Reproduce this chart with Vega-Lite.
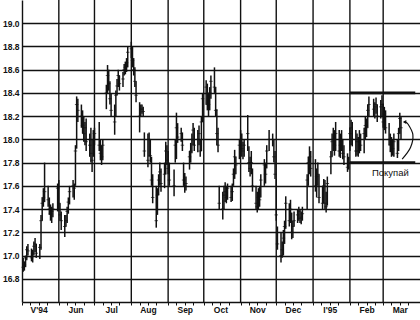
{
"$schema": "https://vega.github.io/schema/vega-lite/v6.json",
"width": 398, "height": 302,
"autosize": {"type": "none"},
"padding": {"left": 22, "top": 0, "right": 0, "bottom": 18},
"background": "white",
"config": {"view": {"stroke": null}, "font": "Liberation Sans", "axis": {"labelOverlap": false, "labelFlush": false}},
"datasets": {
"bars": [
{"d":"1994-05-02","h":16.98,"l":16.86,"c":16.9},
{"d":"1994-05-03","h":16.95,"l":16.87,"c":16.92},
{"d":"1994-05-04","h":17.0,"l":16.9,"c":16.98},
{"d":"1994-05-05","h":17.08,"l":16.96,"c":17.05},
{"d":"1994-05-06","h":17.1,"l":17.0,"c":17.04},
{"d":"1994-05-09","h":17.06,"l":16.95,"c":16.98},
{"d":"1994-05-10","h":17.05,"l":16.94,"c":17.02},
{"d":"1994-05-11","h":17.12,"l":17.0,"c":17.08},
{"d":"1994-05-12","h":17.15,"l":17.03,"c":17.1},
{"d":"1994-05-13","h":17.1,"l":16.98,"c":17.02},
{"d":"1994-05-16","h":17.1,"l":16.97,"c":17.07},
{"d":"1994-05-17","h":17.35,"l":17.05,"c":17.3},
{"d":"1994-05-18","h":17.5,"l":17.3,"c":17.45},
{"d":"1994-05-19","h":17.58,"l":17.42,"c":17.5},
{"d":"1994-05-20","h":17.8,"l":17.46,"c":17.55},
{"d":"1994-05-23","h":17.6,"l":17.42,"c":17.48},
{"d":"1994-05-24","h":17.5,"l":17.35,"c":17.4},
{"d":"1994-05-25","h":17.44,"l":17.3,"c":17.36},
{"d":"1994-05-26","h":17.42,"l":17.28,"c":17.38},
{"d":"1994-05-27","h":17.45,"l":17.33,"c":17.4},
{"d":"1994-05-31","h":17.62,"l":17.38,"c":17.58},
{"d":"1994-06-01","h":17.65,"l":17.4,"c":17.45},
{"d":"1994-06-02","h":17.45,"l":17.3,"c":17.35},
{"d":"1994-06-03","h":17.38,"l":17.22,"c":17.3},
{"d":"1994-06-06","h":17.35,"l":17.16,"c":17.25},
{"d":"1994-06-07","h":17.35,"l":17.25,"c":17.3},
{"d":"1994-06-08","h":17.42,"l":17.28,"c":17.38},
{"d":"1994-06-09","h":17.5,"l":17.36,"c":17.46},
{"d":"1994-06-10","h":17.6,"l":17.44,"c":17.55},
{"d":"1994-06-13","h":17.65,"l":17.5,"c":17.6},
{"d":"1994-06-14","h":17.62,"l":17.48,"c":17.58},
{"d":"1994-06-15","h":17.95,"l":17.6,"c":17.9},
{"d":"1994-06-16","h":18.37,"l":17.92,"c":18.3},
{"d":"1994-06-17","h":18.35,"l":18.15,"c":18.25},
{"d":"1994-06-20","h":18.3,"l":18.1,"c":18.2},
{"d":"1994-06-21","h":18.25,"l":18.05,"c":18.12},
{"d":"1994-06-22","h":18.2,"l":17.98,"c":18.05},
{"d":"1994-06-23","h":18.15,"l":17.95,"c":18.1},
{"d":"1994-06-24","h":18.18,"l":17.9,"c":17.98},
{"d":"1994-06-27","h":18.05,"l":17.85,"c":17.95},
{"d":"1994-06-28","h":18.1,"l":17.8,"c":17.88},
{"d":"1994-06-29","h":18.0,"l":17.72,"c":17.82},
{"d":"1994-06-30","h":18.08,"l":17.85,"c":18.0},
{"d":"1994-07-01","h":18.1,"l":17.95,"c":18.05},
{"d":"1994-07-05","h":18.15,"l":17.9,"c":17.95},
{"d":"1994-07-06","h":18.0,"l":17.82,"c":17.88},
{"d":"1994-07-07","h":17.95,"l":17.78,"c":17.85},
{"d":"1994-07-08","h":18.0,"l":17.82,"c":17.95},
{"d":"1994-07-11","h":18.47,"l":18.26,"c":18.4},
{"d":"1994-07-12","h":18.64,"l":18.4,"c":18.55},
{"d":"1994-07-13","h":18.6,"l":18.42,"c":18.48},
{"d":"1994-07-14","h":18.5,"l":18.3,"c":18.35},
{"d":"1994-07-15","h":18.4,"l":18.2,"c":18.25},
{"d":"1994-07-18","h":18.3,"l":18.04,"c":18.15},
{"d":"1994-07-19","h":18.42,"l":18.2,"c":18.38},
{"d":"1994-07-20","h":18.52,"l":18.38,"c":18.46},
{"d":"1994-07-21","h":18.6,"l":18.45,"c":18.55},
{"d":"1994-07-22","h":18.55,"l":18.42,"c":18.48},
{"d":"1994-07-25","h":18.58,"l":18.45,"c":18.52},
{"d":"1994-07-26","h":18.65,"l":18.55,"c":18.6},
{"d":"1994-07-27","h":18.67,"l":18.56,"c":18.62},
{"d":"1994-07-28","h":18.7,"l":18.58,"c":18.66},
{"d":"1994-07-29","h":18.8,"l":18.62,"c":18.75},
{"d":"1994-08-01","h":18.84,"l":18.7,"c":18.78},
{"d":"1994-08-02","h":18.8,"l":18.62,"c":18.68},
{"d":"1994-08-03","h":18.7,"l":18.55,"c":18.6},
{"d":"1994-08-04","h":18.62,"l":18.45,"c":18.5},
{"d":"1994-08-05","h":18.5,"l":18.32,"c":18.38},
{"d":"1994-08-08","h":18.32,"l":18.06,"c":18.2},
{"d":"1994-08-09","h":18.3,"l":18.2,"c":18.26},
{"d":"1994-08-10","h":18.3,"l":18.22,"c":18.26},
{"d":"1994-08-11","h":18.28,"l":18.2,"c":18.24},
{"d":"1994-08-12","h":18.06,"l":17.85,"c":17.9},
{"d":"1994-08-15","h":18.05,"l":17.76,"c":17.82},
{"d":"1994-08-16","h":18.06,"l":17.85,"c":18.0},
{"d":"1994-08-17","h":18.0,"l":17.8,"c":17.86},
{"d":"1994-08-18","h":17.85,"l":17.6,"c":17.65},
{"d":"1994-08-19","h":17.7,"l":17.45,"c":17.5},
{"d":"1994-08-22","h":17.6,"l":17.24,"c":17.3},
{"d":"1994-08-23","h":17.58,"l":17.35,"c":17.52},
{"d":"1994-08-24","h":17.7,"l":17.52,"c":17.65},
{"d":"1994-08-25","h":17.8,"l":17.6,"c":17.72},
{"d":"1994-08-26","h":17.75,"l":17.55,"c":17.62},
{"d":"1994-08-29","h":17.8,"l":17.58,"c":17.7},
{"d":"1994-08-30","h":17.98,"l":17.7,"c":17.9},
{"d":"1994-08-31","h":17.95,"l":17.78,"c":17.82},
{"d":"1994-09-01","h":17.9,"l":17.7,"c":17.75},
{"d":"1994-09-02","h":17.8,"l":17.6,"c":17.65},
{"d":"1994-09-06","h":17.74,"l":17.51,"c":17.6},
{"d":"1994-09-07","h":18.0,"l":17.8,"c":17.95},
{"d":"1994-09-08","h":18.23,"l":17.83,"c":18.1},
{"d":"1994-09-09","h":18.14,"l":17.97,"c":18.02},
{"d":"1994-09-12","h":18.1,"l":17.98,"c":18.05},
{"d":"1994-09-13","h":18.06,"l":17.9,"c":17.95},
{"d":"1994-09-14","h":17.8,"l":17.6,"c":17.65},
{"d":"1994-09-15","h":17.71,"l":17.54,"c":17.6},
{"d":"1994-09-16","h":17.68,"l":17.56,"c":17.62},
{"d":"1994-09-19","h":17.9,"l":17.74,"c":17.85},
{"d":"1994-09-20","h":17.97,"l":17.8,"c":17.9},
{"d":"1994-09-21","h":18.05,"l":17.88,"c":18.0},
{"d":"1994-09-22","h":18.14,"l":17.95,"c":18.08},
{"d":"1994-09-23","h":18.1,"l":17.9,"c":17.95},
{"d":"1994-09-26","h":18.08,"l":17.89,"c":18.0},
{"d":"1994-09-27","h":18.12,"l":17.95,"c":18.05},
{"d":"1994-09-28","h":18.0,"l":17.85,"c":17.9},
{"d":"1994-09-29","h":18.2,"l":17.9,"c":18.15},
{"d":"1994-09-30","h":18.4,"l":18.15,"c":18.35},
{"d":"1994-10-03","h":18.51,"l":18.3,"c":18.45},
{"d":"1994-10-04","h":18.48,"l":18.25,"c":18.3},
{"d":"1994-10-05","h":18.4,"l":18.2,"c":18.3},
{"d":"1994-10-06","h":18.45,"l":18.25,"c":18.4},
{"d":"1994-10-07","h":18.55,"l":18.35,"c":18.5},
{"d":"1994-10-10","h":18.62,"l":18.4,"c":18.45},
{"d":"1994-10-11","h":18.45,"l":18.2,"c":18.25},
{"d":"1994-10-12","h":18.26,"l":17.95,"c":18.05},
{"d":"1994-10-13","h":18.1,"l":17.89,"c":17.95},
{"d":"1994-10-14","h":17.6,"l":17.4,"c":17.45},
{"d":"1994-10-17","h":17.55,"l":17.31,"c":17.4},
{"d":"1994-10-18","h":17.6,"l":17.4,"c":17.52},
{"d":"1994-10-19","h":17.63,"l":17.46,"c":17.55},
{"d":"1994-10-20","h":17.6,"l":17.45,"c":17.5},
{"d":"1994-10-21","h":17.62,"l":17.48,"c":17.58},
{"d":"1994-10-24","h":17.6,"l":17.46,"c":17.5},
{"d":"1994-10-25","h":17.62,"l":17.47,"c":17.55},
{"d":"1994-10-26","h":17.75,"l":17.6,"c":17.7},
{"d":"1994-10-27","h":17.91,"l":17.66,"c":17.85},
{"d":"1994-10-28","h":17.85,"l":17.7,"c":17.78},
{"d":"1994-10-31","h":18.0,"l":17.83,"c":17.95},
{"d":"1994-11-01","h":18.08,"l":17.9,"c":18.0},
{"d":"1994-11-02","h":18.05,"l":17.85,"c":17.92},
{"d":"1994-11-03","h":17.98,"l":17.83,"c":17.9},
{"d":"1994-11-04","h":18.0,"l":17.85,"c":17.95},
{"d":"1994-11-07","h":18.21,"l":17.9,"c":18.05},
{"d":"1994-11-08","h":17.94,"l":17.72,"c":17.8},
{"d":"1994-11-09","h":17.85,"l":17.68,"c":17.75},
{"d":"1994-11-10","h":17.9,"l":17.7,"c":17.8},
{"d":"1994-11-11","h":17.75,"l":17.55,"c":17.6},
{"d":"1994-11-14","h":17.6,"l":17.4,"c":17.45},
{"d":"1994-11-15","h":17.55,"l":17.37,"c":17.42},
{"d":"1994-11-16","h":17.58,"l":17.4,"c":17.5},
{"d":"1994-11-17","h":17.6,"l":17.42,"c":17.48},
{"d":"1994-11-18","h":17.7,"l":17.5,"c":17.65},
{"d":"1994-11-21","h":17.83,"l":17.6,"c":17.78},
{"d":"1994-11-22","h":17.8,"l":17.62,"c":17.7},
{"d":"1994-11-23","h":17.95,"l":17.75,"c":17.9},
{"d":"1994-11-25","h":18.08,"l":17.9,"c":18.0},
{"d":"1994-11-28","h":18.05,"l":17.94,"c":18.0},
{"d":"1994-11-29","h":18.0,"l":17.8,"c":17.85},
{"d":"1994-11-30","h":17.9,"l":17.66,"c":17.7},
{"d":"1994-12-01","h":17.66,"l":17.3,"c":17.35},
{"d":"1994-12-02","h":17.25,"l":17.05,"c":17.1},
{"d":"1994-12-05","h":17.2,"l":16.94,"c":17.0},
{"d":"1994-12-06","h":17.12,"l":16.98,"c":17.05},
{"d":"1994-12-07","h":17.22,"l":17.0,"c":17.15},
{"d":"1994-12-08","h":17.3,"l":17.1,"c":17.25},
{"d":"1994-12-09","h":17.51,"l":17.23,"c":17.45},
{"d":"1994-12-12","h":17.45,"l":17.25,"c":17.3},
{"d":"1994-12-13","h":17.48,"l":17.28,"c":17.4},
{"d":"1994-12-14","h":17.37,"l":17.14,"c":17.2},
{"d":"1994-12-15","h":17.3,"l":17.15,"c":17.25},
{"d":"1994-12-16","h":17.38,"l":17.25,"c":17.3},
{"d":"1994-12-19","h":17.4,"l":17.28,"c":17.35},
{"d":"1994-12-20","h":17.42,"l":17.3,"c":17.38},
{"d":"1994-12-21","h":17.4,"l":17.28,"c":17.32},
{"d":"1994-12-22","h":17.38,"l":17.27,"c":17.33},
{"d":"1994-12-23","h":17.42,"l":17.3,"c":17.36},
{"d":"1994-12-27","h":17.7,"l":17.4,"c":17.65},
{"d":"1994-12-28","h":17.85,"l":17.6,"c":17.8},
{"d":"1994-12-29","h":17.94,"l":17.7,"c":17.85},
{"d":"1994-12-30","h":17.9,"l":17.68,"c":17.75},
{"d":"1995-01-03","h":17.83,"l":17.55,"c":17.6},
{"d":"1995-01-04","h":17.75,"l":17.5,"c":17.68},
{"d":"1995-01-05","h":17.8,"l":17.6,"c":17.7},
{"d":"1995-01-06","h":17.7,"l":17.45,"c":17.5},
{"d":"1995-01-09","h":17.6,"l":17.4,"c":17.45},
{"d":"1995-01-10","h":17.66,"l":17.45,"c":17.6},
{"d":"1995-01-11","h":17.65,"l":17.4,"c":17.45},
{"d":"1995-01-12","h":17.55,"l":17.37,"c":17.42},
{"d":"1995-01-13","h":17.68,"l":17.43,"c":17.62},
{"d":"1995-01-16","h":17.9,"l":17.7,"c":17.85},
{"d":"1995-01-17","h":18.05,"l":17.85,"c":17.98},
{"d":"1995-01-18","h":18.1,"l":17.9,"c":18.0},
{"d":"1995-01-19","h":18.08,"l":17.86,"c":17.95},
{"d":"1995-01-20","h":18.15,"l":17.9,"c":18.05},
{"d":"1995-01-23","h":18.08,"l":17.85,"c":17.9},
{"d":"1995-01-24","h":18.05,"l":17.84,"c":17.95},
{"d":"1995-01-25","h":18.08,"l":17.9,"c":18.0},
{"d":"1995-01-26","h":18.0,"l":17.83,"c":17.88},
{"d":"1995-01-27","h":17.95,"l":17.78,"c":17.85},
{"d":"1995-01-30","h":17.88,"l":17.72,"c":17.76},
{"d":"1995-01-31","h":17.85,"l":17.74,"c":17.8},
{"d":"1995-02-01","h":18.1,"l":17.9,"c":18.05},
{"d":"1995-02-02","h":18.17,"l":17.95,"c":18.1},
{"d":"1995-02-03","h":18.15,"l":17.94,"c":18.0},
{"d":"1995-02-06","h":18.08,"l":17.85,"c":17.9},
{"d":"1995-02-07","h":18.05,"l":17.86,"c":17.98},
{"d":"1995-02-08","h":18.02,"l":17.85,"c":17.9},
{"d":"1995-02-09","h":18.08,"l":17.88,"c":18.0},
{"d":"1995-02-10","h":18.05,"l":17.9,"c":17.95},
{"d":"1995-02-13","h":18.1,"l":17.88,"c":18.05},
{"d":"1995-02-14","h":18.2,"l":18.0,"c":18.12},
{"d":"1995-02-15","h":18.18,"l":18.02,"c":18.1},
{"d":"1995-02-16","h":18.3,"l":18.1,"c":18.25},
{"d":"1995-02-17","h":18.37,"l":18.2,"c":18.3},
{"d":"1995-02-21","h":18.35,"l":18.2,"c":18.26},
{"d":"1995-02-22","h":18.32,"l":18.18,"c":18.28},
{"d":"1995-02-23","h":18.36,"l":18.22,"c":18.3},
{"d":"1995-02-24","h":18.3,"l":18.15,"c":18.2},
{"d":"1995-02-27","h":18.34,"l":18.18,"c":18.28},
{"d":"1995-02-28","h":18.38,"l":18.2,"c":18.3},
{"d":"1995-03-01","h":18.31,"l":18.1,"c":18.15},
{"d":"1995-03-02","h":18.28,"l":18.08,"c":18.22},
{"d":"1995-03-03","h":18.25,"l":18.05,"c":18.1},
{"d":"1995-03-06","h":18.14,"l":17.95,"c":18.0},
{"d":"1995-03-07","h":18.05,"l":17.89,"c":17.95},
{"d":"1995-03-08","h":18.02,"l":17.85,"c":17.9},
{"d":"1995-03-09","h":18.0,"l":17.86,"c":17.92},
{"d":"1995-03-10","h":18.05,"l":17.85,"c":17.98},
{"d":"1995-03-13","h":18.0,"l":17.84,"c":17.88},
{"d":"1995-03-14","h":18.1,"l":17.9,"c":18.05},
{"d":"1995-03-15","h":18.23,"l":18.05,"c":18.18},
{"d":"1995-03-16","h":18.2,"l":18.0,"c":18.1}
],
"months": [
{"d":"1994-06-01"},{"d":"1994-07-01"},{"d":"1994-08-01"},{"d":"1994-09-01"},{"d":"1994-10-01"},
{"d":"1994-11-01"},{"d":"1994-12-01"},{"d":"1995-01-01"},{"d":"1995-02-01"},{"d":"1995-03-01"}
],
"levels": [
{"d":"1995-02-01","d2":"1995-03-28","p":18.4},
{"d":"1995-02-01","d2":"1995-03-28","p":17.8}
],
"arrow": [
{"o":1,"d":"1995-03-17","p":17.83},
{"o":2,"d":"1995-03-24","p":17.93},
{"o":3,"d":"1995-03-26","p":18.04},
{"o":4,"d":"1995-03-22","p":18.13},
{"o":5,"d":"1995-03-19","p":18.15}
],
"head": [{"d":"1995-03-19","p":18.15}],
"note": [{"d":"1995-03-07","p":17.71,"t":"Покупай"}]
},
"layer": [
{"data": {"name": "months"},
 "mark": {"type": "rule", "color": "#111", "strokeWidth": 1.4},
 "encoding": {
  "x": {"field": "d", "type": "temporal",
   "scale": {"type": "utc", "domain": [{"year":1994,"month":5,"date":1,"utc":true},{"year":1995,"month":4,"date":1,"utc":true}]},
   "axis": {"title": null, "tickCount": 500,
    "values": [767750400000,768355200000,768960000000,769564800000,
     770428800000,771033600000,771638400000,772243200000,
     773020800000,773625600000,774230400000,774835200000,
     775699200000,776304000000,776908800000,777513600000,
     778377600000,778982400000,779587200000,780192000000,
     780969600000,781574400000,782179200000,782784000000,
     783648000000,784252800000,784857600000,785462400000,
     786240000000,786844800000,787449600000,788054400000,
     788918400000,789523200000,790128000000,790732800000,
     791596800000,792201600000,792806400000,793411200000,
     794016000000,794620800000,795225600000,795830400000],
    "grid": false,
    "domainColor": "#111", "domainWidth": 1.4,
    "tickColor": "#111", "tickSize": 3, "tickWidth": 1,
    "labelExpr": "utcdate(datum.value) == 15 ? [\"I'95\",\"Feb\",\"Mar\",\"Apr\",\"V'94\",\"Jun\",\"Jul\",\"Aug\",\"Sep\",\"Oct\",\"Nov\",\"Dec\"][utcmonth(datum.value)] : ''",
    "labelFont": "Liberation Sans", "labelFontWeight": "bold", "labelFontSize": 8.5, "labelColor": "#111",
    "labelPadding": 0, "labelOverlap": false, "labelFlush": false, "labelAngle": 0, "labelAlign": "center"}}
 }},
{"data": {"name": "bars"},
 "mark": {"type": "rule", "color": "#111", "strokeWidth": 1.5},
 "encoding": {
  "x": {"field": "d", "type": "temporal"},
  "y": {"field": "l", "type": "quantitative",
   "scale": {"domain": [16.6, 19.2], "nice": false, "zero": false},
   "axis": {"title": null, "tickCount": 500, "values": [16.8,17.0,17.2,17.4,17.6,17.8,18.0,18.2,18.4,18.6,18.8,19.0],
    "format": ".1f", "grid": true, "gridColor": "#111", "gridWidth": 1.4,
    "domainColor": "#111", "domainWidth": 1.4, "ticks": false, "labelOverlap": false,
    "labelFont": "Liberation Sans", "labelFontWeight": "bold", "labelFontSize": 8.5, "labelColor": "#111", "labelPadding": 3}},
  "y2": {"field": "h"}
 }},
{"data": {"name": "bars"},
 "mark": {"type": "tick", "orient": "horizontal", "color": "#111", "size": 3.5, "thickness": 1},
 "encoding": {"x": {"field": "d", "type": "temporal"}, "y": {"field": "c", "type": "quantitative"}}},
{"data": {"name": "levels"},
 "mark": {"type": "rule", "color": "#111", "strokeWidth": 2.6},
 "encoding": {"x": {"field": "d", "type": "temporal"}, "x2": {"field": "d2"}, "y": {"field": "p", "type": "quantitative"}}},
{"data": {"name": "arrow"},
 "mark": {"type": "line", "color": "#111", "strokeWidth": 1.2, "interpolate": "cardinal"},
 "encoding": {"x": {"field": "d", "type": "temporal"}, "y": {"field": "p", "type": "quantitative"}, "order": {"field": "o", "type": "quantitative"}}},
{"data": {"name": "head"},
 "mark": {"type": "point", "shape": "triangle-left", "filled": true, "color": "#111", "size": 16, "opacity": 1},
 "encoding": {"x": {"field": "d", "type": "temporal"}, "y": {"field": "p", "type": "quantitative"}}},
{"data": {"name": "note"},
 "mark": {"type": "text", "font": "Liberation Sans", "fontSize": 9.5, "color": "#111", "align": "center", "baseline": "middle"},
 "encoding": {"x": {"field": "d", "type": "temporal"}, "y": {"field": "p", "type": "quantitative"}, "text": {"field": "t"}}}
]
}
